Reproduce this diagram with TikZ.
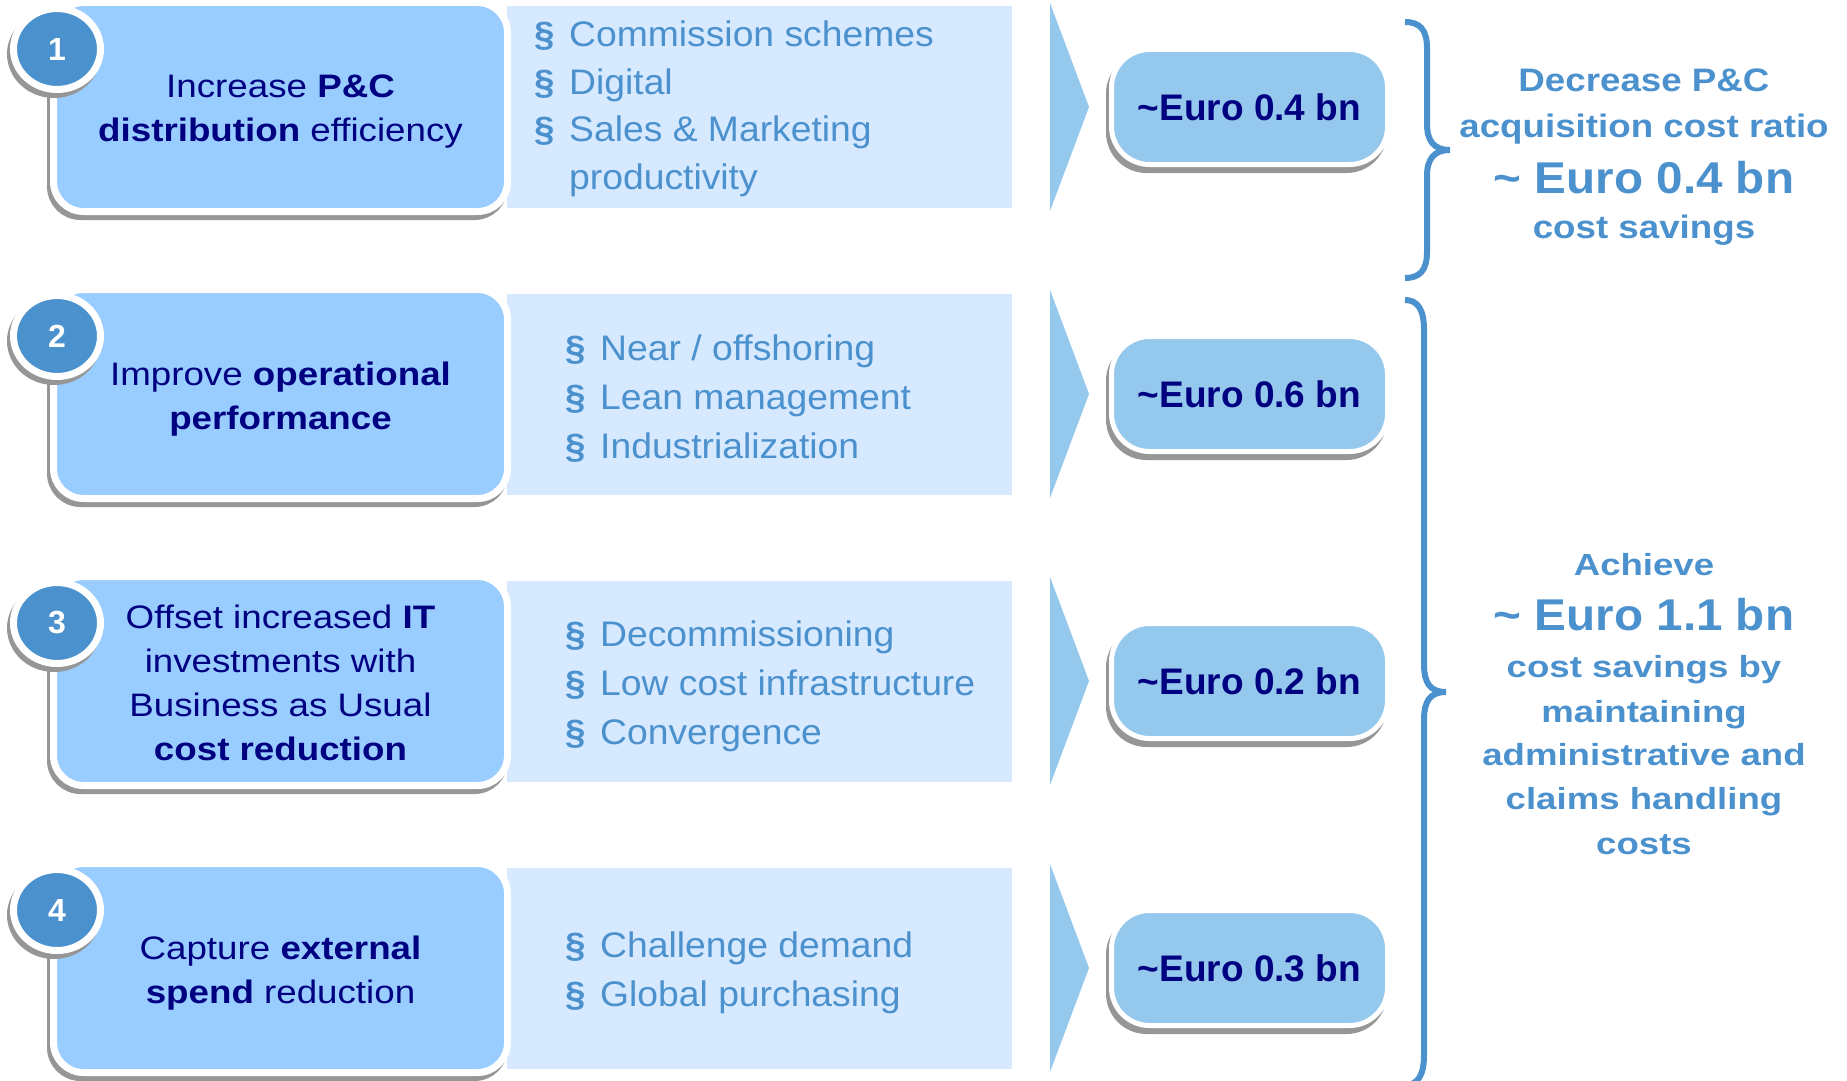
\documentclass[tikz,border=0pt]{standalone}
\usepackage{fontspec}
\setmainfont{Liberation Sans}
\newfontfamily\boxfont[FakeStretch=1.13]{Liberation Sans}
\newfontfamily\bulletfont[FakeStretch=1.05]{Liberation Sans}
\newfontfamily\sidefont[FakeStretch=1.13]{Liberation Sans}
\newfontfamily\sidewide[FakeStretch=1.2]{Liberation Sans}
\newfontfamily\sidebig[FakeStretch=1.07]{Liberation Sans}
\usetikzlibrary{shapes.geometric}

\definecolor{boxblue}{RGB}{153,204,255}
\definecolor{paleblue}{RGB}{214,233,255}
\definecolor{midblue}{RGB}{148,200,236}
\definecolor{accent}{RGB}{75,145,206}
\definecolor{navy}{RGB}{0,0,128}
\definecolor{shade}{RGB}{150,150,150}

\newcommand\bulletmark{\makebox[35pt][l]{\fontsize{35}{35}\selectfont\bfseries\S}}

\tikzset{
  leverbox/.style={rounded corners=30pt, fill=boxblue, draw=white, line width=7pt,
    minimum width=454pt, minimum height=209pt, inner sep=0pt, text=navy, align=center,
    font=\boxfont\fontsize{32.5}{44}\selectfont,
    preaction={fill=shade, draw=shade, line width=7pt,
      transform canvas={xshift=-3pt, yshift=-5pt}}},
  lever text/.style={text=navy, align=center, inner sep=0pt,
    font=\boxfont\fontsize{32.5}{44}\selectfont},
  numdisc/.style={ellipse, minimum width=87pt, minimum height=81pt, inner sep=0pt,
    fill=accent, draw=white, line width=7pt, text=white,
    font=\bfseries\fontsize{32}{32}\selectfont,
    preaction={fill=shade, draw=shade, line width=7pt,
      transform canvas={xshift=-3pt, yshift=-5pt}}},
  detailbox/.style={rectangle, fill=paleblue, minimum width=505pt, minimum height=201pt, inner sep=0pt},
  detailtext/.style={anchor=west, inner sep=0pt, align=left, text=accent,
    font=\bulletfont\fontsize{35.5}{49}\selectfont},
  savingbox/.style={rounded corners=38pt, fill=midblue, draw=white, line width=5pt,
    minimum width=276pt, minimum height=115pt, inner sep=0pt, text=navy,
    font=\bfseries\fontsize{37}{37}\selectfont,
    preaction={fill=shade, draw=shade, line width=5pt,
      transform canvas={xshift=-3pt, yshift=-6pt}}},
  chevron/.style={fill=midblue},
  bracestroke/.style={draw=accent, line width=6pt},
  sidetxt/.style={text=accent, anchor=base, inner sep=0pt},
  sidesmall/.style={sidetxt, font=\sidefont\bfseries\fontsize{32.5}{32.5}\selectfont},
  sidewidetxt/.style={sidetxt, font=\sidewide\bfseries\fontsize{30.5}{30.5}\selectfont},
  sidebigtxt/.style={sidetxt, font=\sidebig\bfseries\fontsize{44.5}{44.5}\selectfont},
}

\begin{document}
\begin{tikzpicture}[x=1pt, y=-1pt]
\useasboundingbox (0,0) rectangle (1847,1081);

% detail panels behind the lever boxes
\node[detailbox] (p1) at (759.5,107) {};
\node[detailbox] (p2) at (759.5,394) {};
\node[detailbox] (p3) at (759.5,681) {};
\node[detailbox] (p4) at (759.5,968) {};

% lever boxes
\node[leverbox] (m1) at (280.5,107) {};
\node[leverbox] (m2) at (280.5,394) {};
\node[leverbox] (m3) at (280.5,681) {};
\node[leverbox] (m4) at (280.5,968) {};

% lever captions
\node[lever text] (m1t) at (280.5,112) {Increase \textbf{P\&C}\\\textbf{distribution} efficiency};
\node[lever text] (m2t) at (280.5,399) {Improve \textbf{operational}\\\textbf{performance}};
\node[lever text] (m3t) at (280.5,683) {Offset increased \textbf{IT}\\investments with\\Business as Usual\\\textbf{cost reduction}};
\node[lever text] (m4t) at (280.5,973) {Capture \textbf{external}\\\textbf{spend} reduction};

% numbered discs
\node[numdisc] (n1) at (57,49) {1};
\node[numdisc] (n2) at (57,336) {2};
\node[numdisc] (n3) at (57,623) {3};
\node[numdisc] (n4) at (57,910) {4};

% detail lists
\node[detailtext, font=\bulletfont\fontsize{35.5}{47.5}\selectfont] (t1) at (534,109) {\bulletmark Commission schemes\\\bulletmark Digital\\\bulletmark Sales \& Marketing\\\hspace*{35pt}productivity};
\node[detailtext] (t2) at (565,399) {\bulletmark Near / offshoring\\\bulletmark Lean management\\\bulletmark Industrialization};
\node[detailtext] (t3) at (565,686) {\bulletmark Decommissioning\\\bulletmark Low cost infrastructure\\\bulletmark Convergence};
\node[detailtext] (t4) at (565,973) {\bulletmark Challenge demand\\\bulletmark Global purchasing};

% chevrons
\fill[chevron] (1050,3) -- (1089,107) -- (1050,211) -- cycle;
\fill[chevron] (1050,290) -- (1089,394) -- (1050,498) -- cycle;
\fill[chevron] (1050,577) -- (1089,681) -- (1050,785) -- cycle;
\fill[chevron] (1050,864) -- (1089,968) -- (1050,1072) -- cycle;

% savings per lever
\node[savingbox] (s1) at (1249.5,107) {\textasciitilde Euro 0.4 bn};
\node[savingbox] (s2) at (1249.5,394) {\textasciitilde Euro 0.6 bn};
\node[savingbox] (s3) at (1249.5,681) {\textasciitilde Euro 0.2 bn};
\node[savingbox] (s4) at (1249.5,968) {\textasciitilde Euro 0.3 bn};

% braces
\draw[bracestroke] (1405,22) .. controls (1420,22) and (1427,30) .. (1427,48) -- (1427,124)
  .. controls (1427,141) and (1434,150) .. (1450,150)
  .. controls (1434,150) and (1427,159) .. (1427,176) -- (1427,252)
  .. controls (1427,270) and (1420,278) .. (1405,278);
\draw[bracestroke] (1405,300) .. controls (1418,300) and (1424,310) .. (1424,330) -- (1424,664)
  .. controls (1424,683) and (1430,692) .. (1446,692)
  .. controls (1430,692) and (1424,701) .. (1424,720) -- (1424,1055)
  .. controls (1424,1075) and (1418,1085) .. (1405,1085);

% summary texts
\node[sidesmall] (a1) at (1644,92) {Decrease P\&C};
\node[sidesmall] (a2) at (1644,137) {acquisition cost ratio};
\node[sidebigtxt] (a3) at (1644,193) {\textasciitilde{} Euro 0.4 bn};
\node[sidesmall] (a4) at (1644,238) {cost savings};

\node[sidewidetxt] (b1) at (1644,575) {Achieve};
\node[sidebigtxt] (b2) at (1644,630) {\textasciitilde{} Euro 1.1 bn};
\node[sidewidetxt] (b3) at (1644,677) {cost savings by};
\node[sidewidetxt] (b4) at (1644,722) {maintaining};
\node[sidewidetxt] (b5) at (1644,765) {administrative and};
\node[sidewidetxt] (b6) at (1644,809) {claims handling};
\node[sidewidetxt] (b7) at (1644,854) {costs};
\end{tikzpicture}
\end{document}
